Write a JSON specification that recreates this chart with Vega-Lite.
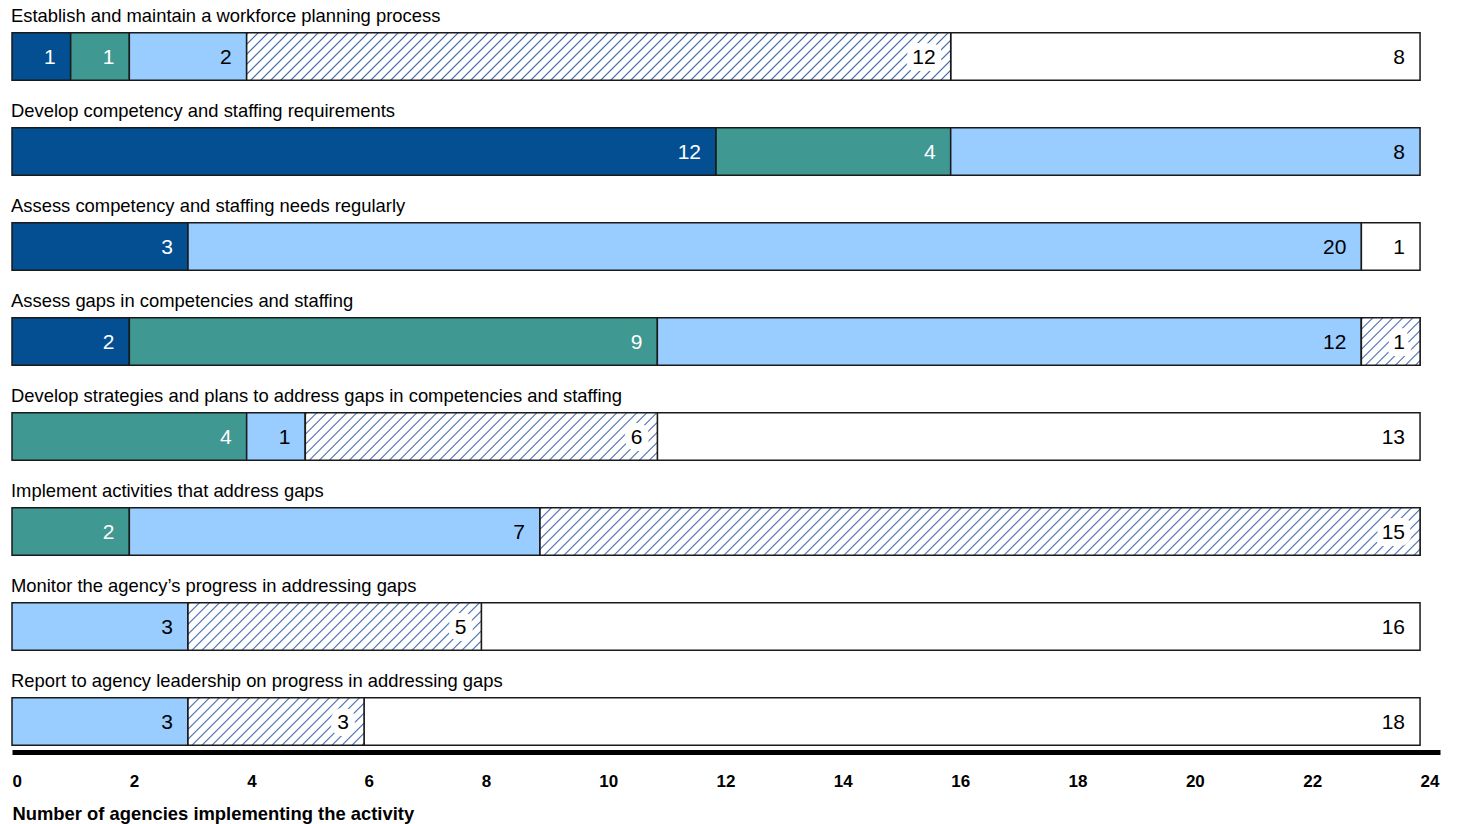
{
"$schema":"https://vega.github.io/schema/vega-lite/v6.json",
"width":1428,"height":722,
"autosize":{"type":"none"},
"padding":{"left":12,"top":28,"right":18,"bottom":74},
"background":"white",
"config":{"view":{"stroke":null},"font":"Liberation Sans",
"axisX":{"domainColor":"black","domainWidth":5,"offset":2,"ticks":false,"tickSize":0,"grid":false,"labelFontWeight":"bold","labelFontSize":17,"labelColor":"black","labelAlign":"left","labelFlush":false,"labelPadding":21,"labelOverlap":false,"format":"d","titleFontWeight":"bold","titleFontSize":18.4,"titleColor":"black","titleAnchor":"start","titleAlign":"left","titlePadding":15}},
"params":[{"name":"hatch","value":[
{"offset":0,"color":"#fff"},{"offset":0.0015,"color":"#3d66ad"},{"offset":0.003,"color":"#fff"},
{"offset":0.01,"color":"#fff"},{"offset":0.0115,"color":"#3d66ad"},{"offset":0.013,"color":"#fff"},
{"offset":0.02,"color":"#fff"},{"offset":0.0215,"color":"#3d66ad"},{"offset":0.023,"color":"#fff"},
{"offset":0.03,"color":"#fff"},{"offset":0.0315,"color":"#3d66ad"},{"offset":0.033,"color":"#fff"},
{"offset":0.04,"color":"#fff"},{"offset":0.0415,"color":"#3d66ad"},{"offset":0.043,"color":"#fff"},
{"offset":0.05,"color":"#fff"},{"offset":0.0515,"color":"#3d66ad"},{"offset":0.053,"color":"#fff"},
{"offset":0.06,"color":"#fff"},{"offset":0.0615,"color":"#3d66ad"},{"offset":0.063,"color":"#fff"},
{"offset":0.07,"color":"#fff"},{"offset":0.0715,"color":"#3d66ad"},{"offset":0.073,"color":"#fff"},
{"offset":0.08,"color":"#fff"},{"offset":0.0815,"color":"#3d66ad"},{"offset":0.083,"color":"#fff"},
{"offset":0.09,"color":"#fff"},{"offset":0.0915,"color":"#3d66ad"},{"offset":0.093,"color":"#fff"},
{"offset":0.1,"color":"#fff"},{"offset":0.1015,"color":"#3d66ad"},{"offset":0.103,"color":"#fff"},
{"offset":0.11,"color":"#fff"},{"offset":0.1115,"color":"#3d66ad"},{"offset":0.113,"color":"#fff"},
{"offset":0.12,"color":"#fff"},{"offset":0.1215,"color":"#3d66ad"},{"offset":0.123,"color":"#fff"},
{"offset":0.13,"color":"#fff"},{"offset":0.1315,"color":"#3d66ad"},{"offset":0.133,"color":"#fff"},
{"offset":0.14,"color":"#fff"},{"offset":0.1415,"color":"#3d66ad"},{"offset":0.143,"color":"#fff"},
{"offset":0.15,"color":"#fff"},{"offset":0.1515,"color":"#3d66ad"},{"offset":0.153,"color":"#fff"},
{"offset":0.16,"color":"#fff"},{"offset":0.1615,"color":"#3d66ad"},{"offset":0.163,"color":"#fff"},
{"offset":0.17,"color":"#fff"},{"offset":0.1715,"color":"#3d66ad"},{"offset":0.173,"color":"#fff"},
{"offset":0.18,"color":"#fff"},{"offset":0.1815,"color":"#3d66ad"},{"offset":0.183,"color":"#fff"},
{"offset":0.19,"color":"#fff"},{"offset":0.1915,"color":"#3d66ad"},{"offset":0.193,"color":"#fff"},
{"offset":0.2,"color":"#fff"},{"offset":0.2015,"color":"#3d66ad"},{"offset":0.203,"color":"#fff"},
{"offset":0.21,"color":"#fff"},{"offset":0.2115,"color":"#3d66ad"},{"offset":0.213,"color":"#fff"},
{"offset":0.22,"color":"#fff"},{"offset":0.2215,"color":"#3d66ad"},{"offset":0.223,"color":"#fff"},
{"offset":0.23,"color":"#fff"},{"offset":0.2315,"color":"#3d66ad"},{"offset":0.233,"color":"#fff"},
{"offset":0.24,"color":"#fff"},{"offset":0.2415,"color":"#3d66ad"},{"offset":0.243,"color":"#fff"},
{"offset":0.25,"color":"#fff"},{"offset":0.2515,"color":"#3d66ad"},{"offset":0.253,"color":"#fff"},
{"offset":0.26,"color":"#fff"},{"offset":0.2615,"color":"#3d66ad"},{"offset":0.263,"color":"#fff"},
{"offset":0.27,"color":"#fff"},{"offset":0.2715,"color":"#3d66ad"},{"offset":0.273,"color":"#fff"},
{"offset":0.28,"color":"#fff"},{"offset":0.2815,"color":"#3d66ad"},{"offset":0.283,"color":"#fff"},
{"offset":0.29,"color":"#fff"},{"offset":0.2915,"color":"#3d66ad"},{"offset":0.293,"color":"#fff"},
{"offset":0.3,"color":"#fff"},{"offset":0.3015,"color":"#3d66ad"},{"offset":0.303,"color":"#fff"},
{"offset":0.31,"color":"#fff"},{"offset":0.3115,"color":"#3d66ad"},{"offset":0.313,"color":"#fff"},
{"offset":0.32,"color":"#fff"},{"offset":0.3215,"color":"#3d66ad"},{"offset":0.323,"color":"#fff"},
{"offset":0.33,"color":"#fff"},{"offset":0.3315,"color":"#3d66ad"},{"offset":0.333,"color":"#fff"},
{"offset":0.34,"color":"#fff"},{"offset":0.3415,"color":"#3d66ad"},{"offset":0.343,"color":"#fff"},
{"offset":0.35,"color":"#fff"},{"offset":0.3515,"color":"#3d66ad"},{"offset":0.353,"color":"#fff"},
{"offset":0.36,"color":"#fff"},{"offset":0.3615,"color":"#3d66ad"},{"offset":0.363,"color":"#fff"},
{"offset":0.37,"color":"#fff"},{"offset":0.3715,"color":"#3d66ad"},{"offset":0.373,"color":"#fff"},
{"offset":0.38,"color":"#fff"},{"offset":0.3815,"color":"#3d66ad"},{"offset":0.383,"color":"#fff"},
{"offset":0.39,"color":"#fff"},{"offset":0.3915,"color":"#3d66ad"},{"offset":0.393,"color":"#fff"},
{"offset":0.4,"color":"#fff"},{"offset":0.4015,"color":"#3d66ad"},{"offset":0.403,"color":"#fff"},
{"offset":0.41,"color":"#fff"},{"offset":0.4115,"color":"#3d66ad"},{"offset":0.413,"color":"#fff"},
{"offset":0.42,"color":"#fff"},{"offset":0.4215,"color":"#3d66ad"},{"offset":0.423,"color":"#fff"},
{"offset":0.43,"color":"#fff"},{"offset":0.4315,"color":"#3d66ad"},{"offset":0.433,"color":"#fff"},
{"offset":0.44,"color":"#fff"},{"offset":0.4415,"color":"#3d66ad"},{"offset":0.443,"color":"#fff"},
{"offset":0.45,"color":"#fff"},{"offset":0.4515,"color":"#3d66ad"},{"offset":0.453,"color":"#fff"},
{"offset":0.46,"color":"#fff"},{"offset":0.4615,"color":"#3d66ad"},{"offset":0.463,"color":"#fff"},
{"offset":0.47,"color":"#fff"},{"offset":0.4715,"color":"#3d66ad"},{"offset":0.473,"color":"#fff"},
{"offset":0.48,"color":"#fff"},{"offset":0.4815,"color":"#3d66ad"},{"offset":0.483,"color":"#fff"},
{"offset":0.49,"color":"#fff"},{"offset":0.4915,"color":"#3d66ad"},{"offset":0.493,"color":"#fff"},
{"offset":0.5,"color":"#fff"},{"offset":0.5015,"color":"#3d66ad"},{"offset":0.503,"color":"#fff"},
{"offset":0.51,"color":"#fff"},{"offset":0.5115,"color":"#3d66ad"},{"offset":0.513,"color":"#fff"},
{"offset":0.52,"color":"#fff"},{"offset":0.5215,"color":"#3d66ad"},{"offset":0.523,"color":"#fff"},
{"offset":0.53,"color":"#fff"},{"offset":0.5315,"color":"#3d66ad"},{"offset":0.533,"color":"#fff"},
{"offset":0.54,"color":"#fff"},{"offset":0.5415,"color":"#3d66ad"},{"offset":0.543,"color":"#fff"},
{"offset":0.55,"color":"#fff"},{"offset":0.5515,"color":"#3d66ad"},{"offset":0.553,"color":"#fff"},
{"offset":0.56,"color":"#fff"},{"offset":0.5615,"color":"#3d66ad"},{"offset":0.563,"color":"#fff"},
{"offset":0.57,"color":"#fff"},{"offset":0.5715,"color":"#3d66ad"},{"offset":0.573,"color":"#fff"},
{"offset":0.58,"color":"#fff"},{"offset":0.5815,"color":"#3d66ad"},{"offset":0.583,"color":"#fff"},
{"offset":0.59,"color":"#fff"},{"offset":0.5915,"color":"#3d66ad"},{"offset":0.593,"color":"#fff"},
{"offset":0.6,"color":"#fff"},{"offset":0.6015,"color":"#3d66ad"},{"offset":0.603,"color":"#fff"},
{"offset":0.61,"color":"#fff"},{"offset":0.6115,"color":"#3d66ad"},{"offset":0.613,"color":"#fff"},
{"offset":0.62,"color":"#fff"},{"offset":0.6215,"color":"#3d66ad"},{"offset":0.623,"color":"#fff"},
{"offset":0.63,"color":"#fff"},{"offset":0.6315,"color":"#3d66ad"},{"offset":0.633,"color":"#fff"},
{"offset":0.64,"color":"#fff"},{"offset":0.6415,"color":"#3d66ad"},{"offset":0.643,"color":"#fff"},
{"offset":0.65,"color":"#fff"},{"offset":0.6515,"color":"#3d66ad"},{"offset":0.653,"color":"#fff"},
{"offset":0.66,"color":"#fff"},{"offset":0.6615,"color":"#3d66ad"},{"offset":0.663,"color":"#fff"},
{"offset":0.67,"color":"#fff"},{"offset":0.6715,"color":"#3d66ad"},{"offset":0.673,"color":"#fff"},
{"offset":0.68,"color":"#fff"},{"offset":0.6815,"color":"#3d66ad"},{"offset":0.683,"color":"#fff"},
{"offset":0.69,"color":"#fff"},{"offset":0.6915,"color":"#3d66ad"},{"offset":0.693,"color":"#fff"},
{"offset":0.7,"color":"#fff"},{"offset":0.7015,"color":"#3d66ad"},{"offset":0.703,"color":"#fff"},
{"offset":0.71,"color":"#fff"},{"offset":0.7115,"color":"#3d66ad"},{"offset":0.713,"color":"#fff"},
{"offset":0.72,"color":"#fff"},{"offset":0.7215,"color":"#3d66ad"},{"offset":0.723,"color":"#fff"},
{"offset":0.73,"color":"#fff"},{"offset":0.7315,"color":"#3d66ad"},{"offset":0.733,"color":"#fff"},
{"offset":0.74,"color":"#fff"},{"offset":0.7415,"color":"#3d66ad"},{"offset":0.743,"color":"#fff"},
{"offset":0.75,"color":"#fff"},{"offset":0.7515,"color":"#3d66ad"},{"offset":0.753,"color":"#fff"},
{"offset":0.76,"color":"#fff"},{"offset":0.7615,"color":"#3d66ad"},{"offset":0.763,"color":"#fff"},
{"offset":0.77,"color":"#fff"},{"offset":0.7715,"color":"#3d66ad"},{"offset":0.773,"color":"#fff"},
{"offset":0.78,"color":"#fff"},{"offset":0.7815,"color":"#3d66ad"},{"offset":0.783,"color":"#fff"},
{"offset":0.79,"color":"#fff"},{"offset":0.7915,"color":"#3d66ad"},{"offset":0.793,"color":"#fff"},
{"offset":0.8,"color":"#fff"},{"offset":0.8015,"color":"#3d66ad"},{"offset":0.803,"color":"#fff"},
{"offset":0.81,"color":"#fff"},{"offset":0.8115,"color":"#3d66ad"},{"offset":0.813,"color":"#fff"},
{"offset":0.82,"color":"#fff"},{"offset":0.8215,"color":"#3d66ad"},{"offset":0.823,"color":"#fff"},
{"offset":0.83,"color":"#fff"},{"offset":0.8315,"color":"#3d66ad"},{"offset":0.833,"color":"#fff"},
{"offset":0.84,"color":"#fff"},{"offset":0.8415,"color":"#3d66ad"},{"offset":0.843,"color":"#fff"},
{"offset":0.85,"color":"#fff"},{"offset":0.8515,"color":"#3d66ad"},{"offset":0.853,"color":"#fff"},
{"offset":0.86,"color":"#fff"},{"offset":0.8615,"color":"#3d66ad"},{"offset":0.863,"color":"#fff"},
{"offset":0.87,"color":"#fff"},{"offset":0.8715,"color":"#3d66ad"},{"offset":0.873,"color":"#fff"},
{"offset":0.88,"color":"#fff"},{"offset":0.8815,"color":"#3d66ad"},{"offset":0.883,"color":"#fff"},
{"offset":0.89,"color":"#fff"},{"offset":0.8915,"color":"#3d66ad"},{"offset":0.893,"color":"#fff"},
{"offset":0.9,"color":"#fff"},{"offset":0.9015,"color":"#3d66ad"},{"offset":0.903,"color":"#fff"},
{"offset":0.91,"color":"#fff"},{"offset":0.9115,"color":"#3d66ad"},{"offset":0.913,"color":"#fff"},
{"offset":0.92,"color":"#fff"},{"offset":0.9215,"color":"#3d66ad"},{"offset":0.923,"color":"#fff"},
{"offset":0.93,"color":"#fff"},{"offset":0.9315,"color":"#3d66ad"},{"offset":0.933,"color":"#fff"}
]}],
"data":{"values":[
{"row":1,"activity":"Establish and maintain a workforce planning process","status":"Fully","order":1,"n":1},
{"row":1,"activity":"Establish and maintain a workforce planning process","status":"Substantially","order":2,"n":1},
{"row":1,"activity":"Establish and maintain a workforce planning process","status":"Partially","order":3,"n":2},
{"row":1,"activity":"Establish and maintain a workforce planning process","status":"Minimally","order":4,"n":12},
{"row":1,"activity":"Establish and maintain a workforce planning process","status":"Not","order":5,"n":8},
{"row":2,"activity":"Develop competency and staffing requirements","status":"Fully","order":1,"n":12},
{"row":2,"activity":"Develop competency and staffing requirements","status":"Substantially","order":2,"n":4},
{"row":2,"activity":"Develop competency and staffing requirements","status":"Partially","order":3,"n":8},
{"row":3,"activity":"Assess competency and staffing needs regularly","status":"Fully","order":1,"n":3},
{"row":3,"activity":"Assess competency and staffing needs regularly","status":"Partially","order":3,"n":20},
{"row":3,"activity":"Assess competency and staffing needs regularly","status":"Not","order":5,"n":1},
{"row":4,"activity":"Assess gaps in competencies and staffing","status":"Fully","order":1,"n":2},
{"row":4,"activity":"Assess gaps in competencies and staffing","status":"Substantially","order":2,"n":9},
{"row":4,"activity":"Assess gaps in competencies and staffing","status":"Partially","order":3,"n":12},
{"row":4,"activity":"Assess gaps in competencies and staffing","status":"Minimally","order":4,"n":1},
{"row":5,"activity":"Develop strategies and plans to address gaps in competencies and staffing","status":"Substantially","order":2,"n":4},
{"row":5,"activity":"Develop strategies and plans to address gaps in competencies and staffing","status":"Partially","order":3,"n":1},
{"row":5,"activity":"Develop strategies and plans to address gaps in competencies and staffing","status":"Minimally","order":4,"n":6},
{"row":5,"activity":"Develop strategies and plans to address gaps in competencies and staffing","status":"Not","order":5,"n":13},
{"row":6,"activity":"Implement activities that address gaps","status":"Substantially","order":2,"n":2},
{"row":6,"activity":"Implement activities that address gaps","status":"Partially","order":3,"n":7},
{"row":6,"activity":"Implement activities that address gaps","status":"Minimally","order":4,"n":15},
{"row":7,"activity":"Monitor the agency’s progress in addressing gaps","status":"Partially","order":3,"n":3},
{"row":7,"activity":"Monitor the agency’s progress in addressing gaps","status":"Minimally","order":4,"n":5},
{"row":7,"activity":"Monitor the agency’s progress in addressing gaps","status":"Not","order":5,"n":16},
{"row":8,"activity":"Report to agency leadership on progress in addressing gaps","status":"Partially","order":3,"n":3},
{"row":8,"activity":"Report to agency leadership on progress in addressing gaps","status":"Minimally","order":4,"n":3},
{"row":8,"activity":"Report to agency leadership on progress in addressing gaps","status":"Not","order":5,"n":18}
]},
"transform":[{"stack":"n","groupby":["row"],"sort":[{"field":"order","order":"ascending"}],"as":["s","e"]}],
"layer":[
{"mark":{"type":"bar","stroke":"#1a1a1a","strokeWidth":1.5},
 "encoding":{
  "y":{"field":"row","type":"ordinal","axis":null,"scale":{"paddingInner":0.5,"paddingOuter":0.05}},
  "x":{"field":"s","type":"quantitative","scale":{"domain":[0,24.34],"nice":false,"zero":false},"title":"Number of agencies implementing the activity","axis":{"values":[0,2,4,6,8,10,12,14,16,18,20,22,24],"format":"d"}},
  "x2":{"field":"e"},
  "fill":{"field":"status","type":"nominal","scale":{"domain":["Fully","Substantially","Partially","Minimally","Not"],"range":["#034f91","#3f9891","#99ccff","#ffffff","#ffffff"]},"legend":null}
 }},
{"transform":[{"filter":"datum.order == 4"}],
 "mark":{"type":"bar","stroke":"#1a1a1a","strokeWidth":1.5,"fill":{"expr":"{gradient:'linear',x1:0,y1:0,x2:1000*(datum.e-datum.s)*58.669/(pow((datum.e-datum.s)*58.669,2)+2256),y2:47500/(pow((datum.e-datum.s)*58.669,2)+2256),stops:hatch}"}},
 "encoding":{
  "y":{"field":"row","type":"ordinal"},
  "x":{"field":"s","type":"quantitative","title":"Number of agencies implementing the activity"},
  "x2":{"field":"e"}
 }},
{"transform":[{"filter":"datum.order == 4"}],
 "mark":{"type":"text","align":"right","baseline":"middle","fontSize":21,"dx":-15,"dy":1,"fill":"white","stroke":"white","strokeWidth":14,"strokeJoin":"round"},
 "encoding":{
  "y":{"field":"row","type":"ordinal"},
  "x":{"field":"e","type":"quantitative","title":"Number of agencies implementing the activity"},
  "text":{"field":"n"}
 }},
{"mark":{"type":"text","align":"right","baseline":"middle","fontSize":21,"dx":-15,"dy":1},
 "encoding":{
  "y":{"field":"row","type":"ordinal"},
  "x":{"field":"e","type":"quantitative","title":"Number of agencies implementing the activity"},
  "text":{"field":"n"},
  "color":{"condition":{"test":"datum.order <= 2","value":"white"},"value":"black"}
 }},
{"transform":[{"aggregate":[{"op":"count","as":"c"}],"groupby":["row","activity"]}],
 "mark":{"type":"text","align":"left","baseline":"alphabetic","fontSize":18.4,"dx":-1,"dy":-10.5,"color":"black"},
 "encoding":{
  "y":{"field":"row","type":"ordinal","bandPosition":0},
  "x":{"datum":0,"type":"quantitative","title":"Number of agencies implementing the activity"},
  "text":{"field":"activity"}
 }}
]
}
